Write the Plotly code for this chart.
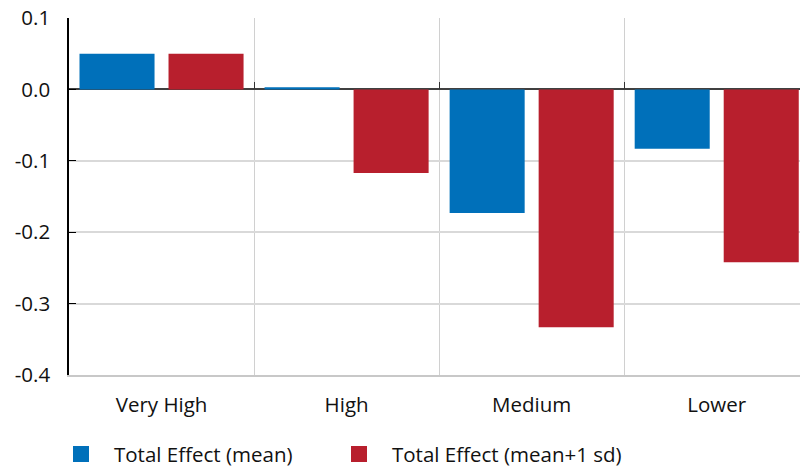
import plotly.graph_objects as go

categories = ["Very High", "High", "Medium", "Lower"]
mean_vals = [0.050, 0.003, -0.173, -0.083]
sd_vals = [0.050, -0.117, -0.333, -0.242]
series_names = ["Total Effect (mean)", "Total Effect (mean+1 sd)"]
ytick_vals = [0.1, 0.0, -0.1, -0.2, -0.3, -0.4]
ytick_text = ["0.1", "0.0", "-0.1", "-0.2", "-0.3", "-0.4"]

BLUE = "#0070BA"
RED = "#B81F2D"
FONT = "Open Sans"
FS = 20.5

fig = go.Figure()
fig.add_trace(go.Bar(x=categories, y=mean_vals, marker_color=BLUE, name=series_names[0],
                     showlegend=False, marker_line_width=0))
fig.add_trace(go.Bar(x=categories, y=sd_vals, marker_color=RED, name=series_names[1],
                     showlegend=False, marker_line_width=0))
for nm, col, lg in zip(series_names, [BLUE, RED], ["legend", "legend2"]):
    fig.add_trace(go.Scatter(x=[None], y=[None], mode="markers", name=nm, legend=lg,
                             marker=dict(symbol="square", size=16, color=col)))
fig.add_trace(go.Scatter(x=categories, y=[0] * len(categories), xaxis="x2", mode="markers",
                         marker=dict(opacity=0), showlegend=False, hoverinfo="skip"))

legend_common = dict(orientation="h", xanchor="left", yref="container", y=0.0743,
                     yanchor="top", xref="container", font=dict(size=FS), itemwidth=56,
                     bgcolor="rgba(0,0,0,0)")

fig.update_layout(
    width=800, height=469,
    margin=dict(l=69, r=0, t=18, b=94, autoexpand=False),
    paper_bgcolor="white", plot_bgcolor="white",
    barmode="group", bargap=0.038, bargroupgap=0.157,
    font=dict(family=FONT, size=FS, color="#111111"),
    xaxis=dict(type="category", categoryorder="array", categoryarray=categories,
               range=[-0.5, 3.45], tickson="boundaries", showgrid=True,
               gridcolor="#d0d0d0", gridwidth=1, ticks="", showline=True,
               linecolor="#c8c8c8", linewidth=1.5, ticklabelstandoff=11,
               tickfont=dict(size=FS), automargin=False),
    xaxis2=dict(type="category", overlaying="x", anchor="free", position=0.8,
                matches="x", categoryorder="array", categoryarray=categories,
                tickson="boundaries", ticks="inside", ticklen=7, tickcolor="#333333",
                showticklabels=False, showgrid=False, showline=False, zeroline=False,
                automargin=False),
    yaxis=dict(range=[-0.4, 0.1], tickvals=ytick_vals, ticktext=ytick_text,
               showgrid=True, gridcolor="#d9d9d9", gridwidth=1.5,
               zeroline=True, zerolinecolor="#404040", zerolinewidth=2,
               showline=True, linecolor="#000000", linewidth=1.5,
               ticks="inside", ticklen=7, tickcolor="#000000",
               ticklabelstandoff=13, tickfont=dict(size=FS), automargin=False),
    legend=dict(x=0.06, **legend_common),
    legend2=dict(x=0.4075, **legend_common),
)

fig.write_html("out.html", config={"displayModeBar": False},
               post_script="document.body.style.margin='0';")
